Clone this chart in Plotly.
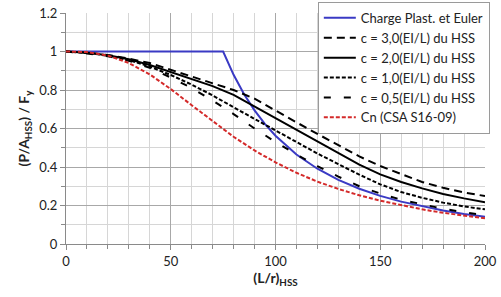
import plotly.graph_objects as go

# ---- data ----
lr = [0, 10, 20, 30, 40, 50, 60, 70, 80, 90, 100, 110, 120, 130, 140, 150, 160, 170, 180, 190, 200]

plast_euler_x = [0, 10, 20, 30, 40, 50, 60, 70, 75, 80, 85, 90, 95, 100, 110, 120, 130, 140, 150, 160, 170, 180, 190, 200]
plast_euler_y = [1, 1, 1, 1, 1, 1, 1, 1, 1, 0.879, 0.778, 0.694, 0.623, 0.5625, 0.465, 0.391, 0.333, 0.287,
                 0.25, 0.22, 0.195, 0.174, 0.156, 0.141]

c30 = [1, 0.994, 0.982, 0.963, 0.94, 0.905, 0.872, 0.838, 0.8, 0.755, 0.692, 0.632, 0.572, 0.512, 0.455,
       0.405, 0.362, 0.322, 0.292, 0.268, 0.249]
c20 = [1, 0.994, 0.98, 0.96, 0.93, 0.892, 0.858, 0.82, 0.775, 0.715, 0.655, 0.595, 0.532, 0.472, 0.412,
       0.362, 0.322, 0.289, 0.26, 0.237, 0.217]
c10 = [1, 0.993, 0.978, 0.955, 0.922, 0.878, 0.828, 0.772, 0.71, 0.65, 0.59, 0.53, 0.47, 0.415, 0.36,
       0.31, 0.27, 0.24, 0.215, 0.195, 0.18]
c05 = [1, 0.99, 0.975, 0.952, 0.915, 0.865, 0.81, 0.745, 0.675, 0.6, 0.53, 0.465, 0.405, 0.35, 0.3,
       0.262, 0.23, 0.205, 0.183, 0.165, 0.15]
cn = [1, 0.997, 0.979, 0.94, 0.881, 0.805, 0.721, 0.637, 0.557, 0.486, 0.424, 0.37, 0.324, 0.286, 0.253,
      0.225, 0.201, 0.18, 0.162, 0.147, 0.134]

names = ["Charge Plast. et Euler", "c = 3,0(EI/L) du HSS", "c = 2,0(EI/L) du HSS",
         "c = 1,0(EI/L) du HSS", "c = 0,5(EI/L) du HSS", "Cn (CSA S16-09)"]

FONT = "Lato, 'Open Sans', sans-serif"

fig = go.Figure()
fig.add_trace(go.Scatter(x=plast_euler_x, y=plast_euler_y, mode="lines", name=names[0],
                         line=dict(color="#3a3ac4", width=2)))
fig.add_trace(go.Scatter(x=lr, y=c30, mode="lines", name=names[1],
                         line=dict(color="black", width=2, dash="8px,5px")))
fig.add_trace(go.Scatter(x=lr, y=c20, mode="lines", name=names[2],
                         line=dict(color="black", width=2)))
fig.add_trace(go.Scatter(x=lr, y=c10, mode="lines", name=names[3],
                         line=dict(color="black", width=2, dash="4px,2px")))
fig.add_trace(go.Scatter(x=lr, y=c05, mode="lines", name=names[4],
                         line=dict(color="black", width=2, dash="7px,13px")))
fig.add_trace(go.Scatter(x=lr, y=cn, mode="lines", name=names[5],
                         line=dict(color="#d42a2a", width=2, dash="4px,2px")))

fig.update_layout(
    width=501, height=297,
    margin=dict(l=66, r=16, t=13, b=53, autoexpand=False),
    paper_bgcolor="white", plot_bgcolor="white",
    font=dict(family=FONT, size=13, color="#222"),
    showlegend=True,
    legend=dict(x=0.601, y=1.048, xanchor="left", yanchor="top",
                bgcolor="white", bordercolor="#9a9a9a", borderwidth=1,
                font=dict(family=FONT, size=13, color="#222"),
                itemwidth=32, tracegroupgap=0),
)
fig.update_xaxes(
    range=[0, 200], tick0=0, dtick=50, showgrid=True, gridcolor="#a8a8a8", gridwidth=1,
    minor=dict(dtick=10, showgrid=True, gridcolor="#d6d6d6", ticks="outside", ticklen=4, tickcolor="#8a8a8a"),
    ticks="outside", ticklen=5, tickcolor="#8a8a8a",
    showline=True, linecolor="#8a8a8a", linewidth=1, zeroline=False,
    title=dict(text="<b>(L/r)<sub>HSS</sub></b>", font=dict(size=14), standoff=4),
)
fig.update_yaxes(
    range=[0, 1.2], tick0=0, dtick=0.2, showgrid=True, gridcolor="#a8a8a8", gridwidth=1,
    minor=dict(dtick=0.1, showgrid=True, gridcolor="#d6d6d6", ticks="outside", ticklen=4, tickcolor="#8a8a8a"),
    ticks="outside", ticklen=5, tickcolor="#8a8a8a",
    showline=True, linecolor="#8a8a8a", linewidth=1, zeroline=False,
    title=dict(text="<b>(P/A<sub>HSS</sub>) / F<sub>y</sub></b>", font=dict(size=14), standoff=6),
)

fig.write_html("out.html")
